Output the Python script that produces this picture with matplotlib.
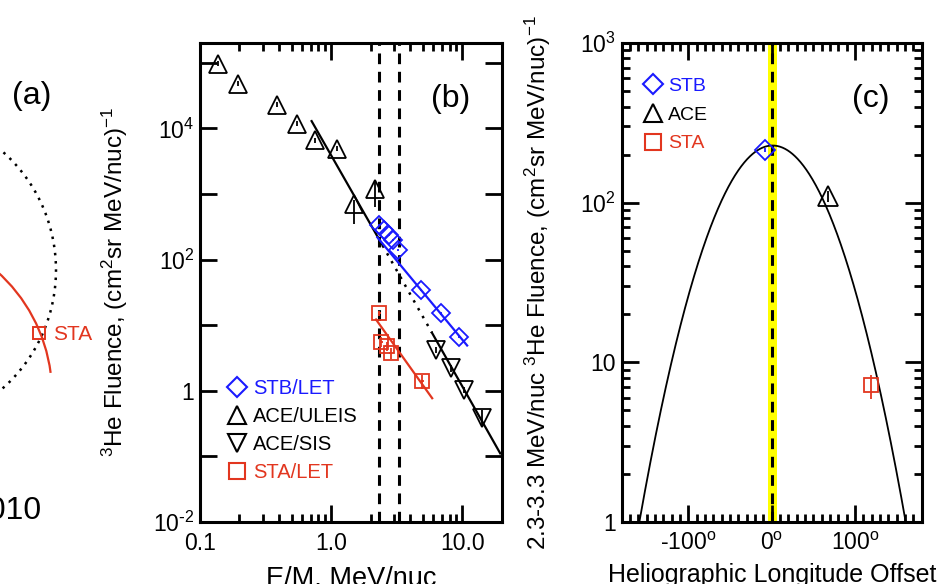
import matplotlib
matplotlib.use('Agg')
import matplotlib.pyplot as plt
from matplotlib.lines import Line2D
from matplotlib.patches import Arc, Circle
from matplotlib.ticker import FixedLocator, LogLocator, MultipleLocator, NullFormatter, NullLocator
import numpy as np

plt.rcParams['font.family'] = ['Liberation Sans', 'DejaVu Sans']
plt.rcParams['mathtext.default'] = 'regular'
plt.rcParams['axes.unicode_minus'] = False

BLUE = '#1a1aff'
RED = '#e2361f'

# ---- panel (b): 3He spectra ----
stb_e = [2.33, 2.54, 2.77, 2.94, 3.21, 4.82, 6.84, 9.42]
stb_f = [334, 280, 235, 197, 139, 34.1, 15.1, 6.64]

uleis_e = [0.138, 0.195, 0.389, 0.552, 0.757, 1.11, 1.50, 2.17]
uleis_f = [9.7e4, 4.8e4, 2.3e4, 1.18e4, 6.6e3, 4.9e3, 714, 1170]
uleis_lo = [9e3, 4.5e3, 2.2e3, 1.1e3, 600, 450, 360, 530]
uleis_hi = [9e3, 4.5e3, 2.2e3, 1.1e3, 600, 450, 90, 360]

sis_e = [6.34, 8.15, 10.3, 14.2]
sis_f = [4.17, 2.19, 1.03, 0.38]
sis_lo = [0.4, 0.25, 0.12, 0.10]
sis_hi = [0.4, 0.25, 0.12, 0.13]

sta_e = [2.33, 2.42, 2.65, 2.85, 4.97]
sta_f = [15.1, 5.6, 4.8, 3.8, 1.42]
sta_err = [1.5, 0.9, 0.8, 0.7, 0.35]

# power-law fits (end points)
ace_fit_e = [0.71, 2.47, 5.87, 19.5]
ace_fit_f = [1.29e4, 164, 7.7, 0.111]
stb_fit_e = [2.25, 10.9]
stb_fit_f = [219, 4.9]
sta_fit_e = [2.20, 5.9]
sta_fit_f = [12.2, 0.77]

band_e = [2.3, 3.3]

# ---- panel (c): longitude distribution ----
sc_names = ['STB', 'ACE', 'STA']
sc_lon = [-8, 68, 119]
sc_flu = [214, 110, 7.2]
sc_lo = [6, 9, 1.3]
sc_hi = [6, 9, 1.1]
gauss_peak = 228
gauss_center = 1.0
gauss_sigma = 48.5
connect_lon = [-5, 6]

W, H = 942, 584
fig = plt.figure(figsize=(W / 100, H / 100), dpi=100)


def frac(x0, y0, x1, y1):
    return [x0 / W, 1 - y1 / H, (x1 - x0) / W, (y1 - y0) / H]


# ---- panel (a): only its right edge is visible ----
ax0 = fig.add_axes([0, 0, 1, 1], zorder=0)
ax0.set_xlim(0, W)
ax0.set_ylim(H, 0)
ax0.axis('off')
ax0.add_patch(Circle((-102, 270), 158, fill=False, color='black', lw=1.8,
                     ls=(0, (1, 2.3))))
ax0.add_patch(Arc((-112, 394), 2 * 164, 2 * 164, theta1=-90, theta2=-7.4,
                  color=RED, lw=1.6))
ax0.plot([39.3], [333.3], marker='s', ms=8.6, mfc='none', mec=RED, mew=1.4)
ax0.text(53, 335, 'STA', color=RED, fontsize=15, ha='left', va='center')
ax0.text(32, 96, '(a)', fontsize=23, ha='center', va='center')
ax0.text(42, 511, '2010', fontsize=23, ha='right', va='center')

tick_kw = dict(direction='in', top=True, right=True, width=2, colors='black')


def style(ax):
    for s in ax.spines.values():
        s.set_linewidth(2.2)
    ax.tick_params(which='major', length=12, labelsize=16.5, pad=7, **tick_kw)
    ax.tick_params(which='minor', length=5.5, **tick_kw)
    ax.tick_params(axis='y', which='major', pad=4)


# ---- panel (b) ----
axb = fig.add_axes(frac(200, 43, 501.7, 522), zorder=2)
axb.set_xscale('log')
axb.set_yscale('log')
axb.set_xlim(0.1, 20)
axb.set_ylim(1e-2, 2e5)

for e in band_e:
    axb.axvline(e, color='black', lw=2.2, dashes=(3.5, 2.5))

axb.plot(ace_fit_e[:2], ace_fit_f[:2], color='black', lw=1.6)
axb.plot(ace_fit_e[1:3], ace_fit_f[1:3], color='black', lw=1.8, ls=(0, (1, 2.6)))
axb.plot(ace_fit_e[2:], ace_fit_f[2:], color='black', lw=1.6)
axb.plot(stb_fit_e, stb_fit_f, color=BLUE, lw=1.6)
axb.plot(sta_fit_e, sta_fit_f, color=RED, lw=1.6)

mk = dict(ls='none', mfc='none', mew=1.3, elinewidth=1.3, capsize=0)
axb.errorbar(uleis_e, uleis_f, yerr=[uleis_lo, uleis_hi], marker='^', ms=13,
             color='black', **mk)
axb.errorbar(sis_e, sis_f, yerr=[sis_lo, sis_hi], marker='v', ms=13,
             color='black', **mk)
axb.errorbar(stb_e, stb_f, yerr=np.array(stb_f) * 0.04, marker='D', ms=9.2,
             color=BLUE, **mk)
axb.errorbar(sta_e, sta_f, yerr=sta_err, xerr=np.array(sta_e) * 0.03, marker='s',
             ms=10, color=RED, **mk)

axb.xaxis.set_major_locator(FixedLocator([0.1, 1, 10]))
axb.set_xticklabels(['0.1', '1.0', '10.0'])
axb.xaxis.set_minor_locator(LogLocator(base=10, subs=np.arange(2, 10)))
axb.xaxis.set_minor_formatter(NullFormatter())
axb.yaxis.set_major_locator(FixedLocator([1e-2, 1e-1, 1, 10, 1e2, 1e3, 1e4, 1e5]))
axb.set_yticklabels([r'10$^{\text{-}2}$', '', '1', '', '10$^2$', '', '10$^4$', ''])
axb.yaxis.set_minor_locator(NullLocator())
style(axb)

axb.set_xlabel('E/M, MeV/nuc', fontsize=19.5)
axb.xaxis.set_label_coords(0.5, -0.09)
axb.set_ylabel('$^3$He Fluence, (cm$^2$sr MeV/nuc)$^{-1}$', fontsize=17.5)
axb.yaxis.set_label_coords(-0.232, 0.5)
axb.text(0.83, 0.884, '(b)', transform=axb.transAxes, fontsize=23,
         ha='center', va='center')

hb = [Line2D([], [], ls='none', marker='D', ms=10, mfc='none', mec=BLUE, mew=1.5),
      Line2D([], [], ls='none', marker='^', ms=13, mfc='none', mec='black', mew=1.5),
      Line2D([], [], ls='none', marker='v', ms=13, mfc='none', mec='black', mew=1.5),
      Line2D([], [], ls='none', marker='s', ms=11, mfc='none', mec=RED, mew=1.5)]
axb.legend(hb, ['STB/LET', 'ACE/ULEIS', 'ACE/SIS', 'STA/LET'],
           labelcolor=[BLUE, 'black', 'black', RED], loc='upper left',
           bbox_to_anchor=(0.093, 0.2985), frameon=False, fontsize=14.5,
           handlelength=0.9, handletextpad=0.35, labelspacing=0.45,
           borderpad=0, borderaxespad=0)

# ---- panel (c) ----
axc = fig.add_axes(frac(621.7, 43, 921.7, 522), zorder=2)
axc.set_yscale('log')
axc.set_xlim(-180, 180)
axc.set_ylim(1, 1000)

axc.axvspan(connect_lon[0], connect_lon[1], color='#ffff00', lw=0)
axc.axvline(0, color='black', lw=2.2, dashes=(3.5, 2.5))

lon_grid = np.linspace(-180, 180, 721)
axc.plot(lon_grid, gauss_peak * np.exp(-(lon_grid - gauss_center) ** 2 / (2 * gauss_sigma ** 2)),
         color='black', lw=1.3)

c_marks = ['D', '^', 's']
c_cols = [BLUE, 'black', RED]
c_ms = [10, 14, 10.5]
for i in range(3):
    axc.errorbar([sc_lon[i]], [sc_flu[i]], yerr=[[sc_lo[i]], [sc_hi[i]]],
                 marker=c_marks[i], ms=c_ms[i], color=c_cols[i], **mk)

axc.xaxis.set_major_locator(FixedLocator([-100, 0, 100]))
axc.set_xticklabels(['-100$^o$', '0$^o$', '100$^o$'])
axc.xaxis.set_minor_locator(MultipleLocator(10))
axc.yaxis.set_major_locator(FixedLocator([1, 10, 100, 1000]))
axc.set_yticklabels(['1', '10', '10$^2$', '10$^3$'])
axc.yaxis.set_minor_locator(LogLocator(base=10, subs=np.arange(2, 10)))
axc.yaxis.set_minor_formatter(NullFormatter())
style(axc)

axc.set_xlabel('Heliographic Longitude Offset', fontsize=18)
axc.xaxis.set_label_coords(0.5, -0.085)
axc.set_ylabel('2.3-3.3 MeV/nuc $^3$He Fluence, (cm$^2$sr MeV/nuc)$^{-1}$', fontsize=17.5)
axc.yaxis.set_label_coords(-0.229, 0.5)
axc.text(0.83, 0.884, '(c)', transform=axc.transAxes, fontsize=23,
         ha='center', va='center')

hc = [Line2D([], [], ls='none', marker='D', ms=10, mfc='none', mec=BLUE, mew=1.5),
      Line2D([], [], ls='none', marker='^', ms=13, mfc='none', mec='black', mew=1.5),
      Line2D([], [], ls='none', marker='s', ms=11, mfc='none', mec=RED, mew=1.5)]
axc.legend(hc, sc_names, labelcolor=c_cols, loc='upper left',
           bbox_to_anchor=(0.074, 0.929), frameon=False, fontsize=14,
           handlelength=0.9, handletextpad=0.35, labelspacing=0.58,
           borderpad=0, borderaxespad=0)

fig.savefig('out.png', dpi=100)
